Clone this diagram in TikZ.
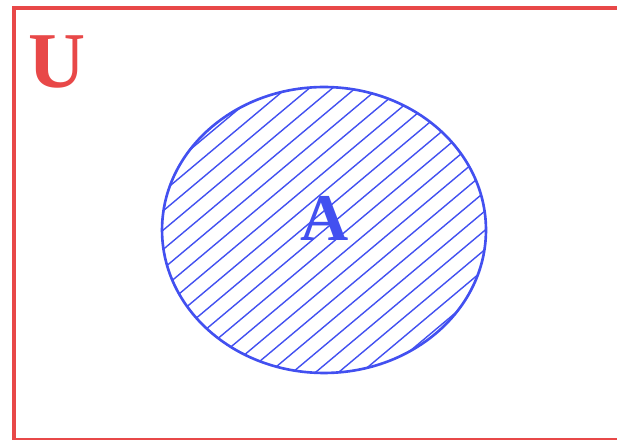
\documentclass[tikz,border=0pt]{standalone}
\usepackage{fontspec}
\setmainfont{Liberation Serif}
\usepackage{xcolor}
\usepackage{tikz}
\usetikzlibrary{
    positioning,
    shapes.geometric
}

\definecolor{uRed}{RGB}{232,72,72}
\definecolor{aBlue}{RGB}{66,80,240}

\begin{document}
\begin{tikzpicture}[
x=0.02cm, y=0.02cm,
universe/.style={
draw=uRed,
line width=2pt
},
hatch/.style={
draw=aBlue,
line width=0.8pt
},
setbox/.style={
draw=aBlue,
ellipse,
line width=1.5pt,
inner sep=0pt,
minimum width=6.48cm,
minimum height=5.72cm
},
lbl/.style={
inner sep=0pt,
font=\fontsize{#1}{#1}\selectfont\bfseries
}
]

\clip (0,0) rectangle (617,439);

% universal set
\draw[universe] (14,-1.2) rectangle (660,431);

\node[lbl=45, text=uRed] (labelU) at (57,377) {U};

% set A, hatched
\node[setbox, path picture={
\foreach \k in {-16,...,16}
\draw[hatch] ([xshift={\k*0.46cm}]path picture bounding box.center)
++(-4cm,-3.36cm) -- ++(8cm,6.71cm);
}] (setA) at (324,209) {};

\node[lbl=38, text=aBlue] (labelA) at (325,221) {A};

\end{tikzpicture}
\end{document}
